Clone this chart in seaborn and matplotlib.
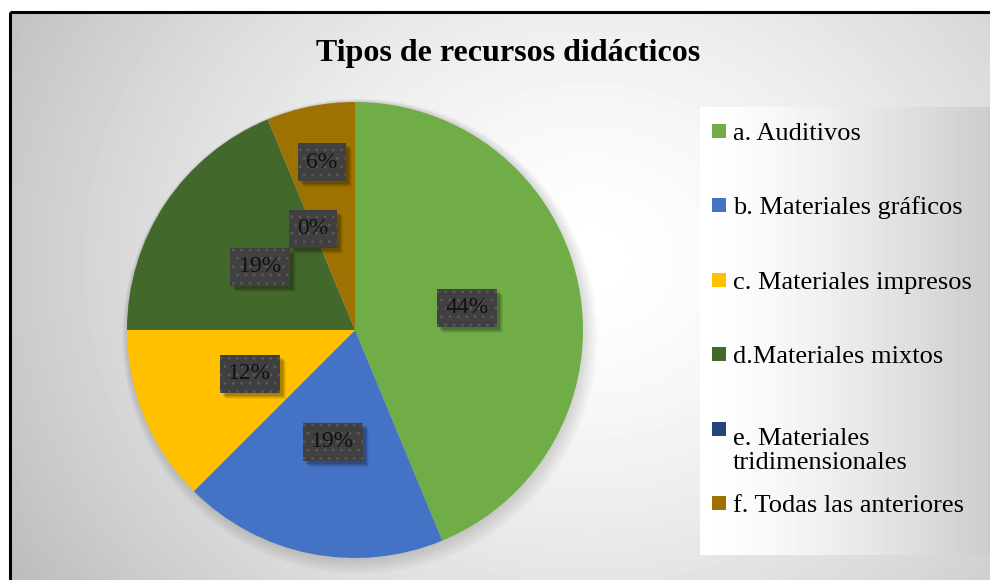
import numpy as np
import matplotlib
matplotlib.use("Agg")
import matplotlib.pyplot as plt
from matplotlib.patches import Rectangle, Circle
from matplotlib.transforms import IdentityTransform
import seaborn as sns

# data (counts out of 16 answers)
categories = ["a. Auditivos", "b. Materiales gráficos", "c. Materiales impresos",
              "d.Materiales mixtos", "e. Materiales\ntridimensionales",
              "f. Todas las anteriores"]
counts = [7, 3, 2, 3, 0, 1]
colors = ["#70AD47", "#4472C4", "#FFC000", "#43682B", "#264478", "#9E7202"]
label_radius = [0.5, 0.5, 0.5, 0.5, 0.48, 0.75]
title = "Tipos de recursos didácticos"

sns.set_theme(style="white")
plt.rcParams["font.family"] = ["Liberation Serif", "DejaVu Serif"]
plt.rcParams["hatch.linewidth"] = 0.8

W, H = 990, 580
fig = plt.figure(figsize=(W / 100, H / 100), dpi=100, facecolor="white")

# background: radial grey gradient inside the frame + legend panel
bg = fig.add_axes([0, 0, 1, 1])
yy, xx = np.mgrid[12:H, 10:W]
d = np.hypot(xx - 590, (yy - 260) * 1.15) / 660
shade = 1 - 0.25 * np.clip(d, 0, 1.2) ** 1.5
bg.imshow(shade, cmap="gray", vmin=0, vmax=1, extent=(10, W, H, 12), aspect="auto")
lx = np.linspace(0, 1, 290)[None, :]
panel = 1 - 0.2 * lx ** 1.4 * np.ones((448, 1))
bg.imshow(panel, cmap="gray", vmin=0, vmax=1, extent=(700, W, 555, 107), aspect="auto")
bg.add_patch(Rectangle((10, 12), 1200, 1200, fill=False, lw=2.2, ec="black"))
bg.set_xlim(0, W)
bg.set_ylim(H, 0)
bg.axis("off")

fig.text(508 / W, 1 - 54 / H, title, ha="center", va="center",
         fontsize=23, fontweight="bold", color="black")

# pie
r_px = 228
ax = fig.add_axes([(355 - r_px * 1.1) / W, (H - 330 - r_px * 1.1) / H,
                   2.2 * r_px / W, 2.2 * r_px / H])
for k in range(8):
    ax.add_patch(Circle((0.003 * k, -0.004 * k), 1 + 0.006 * k, color="black",
                        alpha=0.018, lw=0, zorder=0))
wedges, texts, autotexts = ax.pie(counts, colors=colors, startangle=90,
                                  counterclock=False, autopct="%.0f%%",
                                  pctdistance=0.5, radius=1,
                                  wedgeprops=dict(linewidth=0),
                                  textprops=dict(fontsize=17, color="#111111"))
for w, t, r in zip(wedges, autotexts, label_radius):
    th = np.deg2rad((w.theta1 + w.theta2) / 2)
    t.set_position((r * np.cos(th), r * np.sin(th)))
    t.set_zorder(5)
    t.set_bbox(dict(boxstyle="square,pad=0.36", fc="#404040", ec="#5a5a5a",
                    lw=0, hatch=".."))
ax.set_xlim(-1.1, 1.1)
ax.set_ylim(-1.1, 1.1)
ax.set_aspect("auto")
ax.axis("off")

# soft drop shadows behind the label boxes (pixel space)
fig.canvas.draw()
for t in autotexts:
    ext = t.get_bbox_patch().get_window_extent()
    for k, a in [(6, 0.06), (5, 0.08), (4, 0.10), (3, 0.12)]:
        ax.add_artist(Rectangle((ext.x0 + k, ext.y0 - k), ext.width, ext.height,
                                transform=IdentityTransform(), fc="black",
                                alpha=a, lw=0, zorder=4, clip_on=False))

# legend drawn as squares + text
centers = [131, 205, 280, 354, 429, 503]
for lab, col, cy in zip(categories, colors, centers):
    bg.add_patch(Rectangle((712, cy - 7), 14, 14, color=col, lw=0))
    n_extra = lab.count("\n")
    bg.text(733, cy + 9 + 31 * n_extra, lab, ha="left", va="baseline", fontsize=19,
            color="black", linespacing=1.1)

fig.savefig("out.png", dpi=100)
